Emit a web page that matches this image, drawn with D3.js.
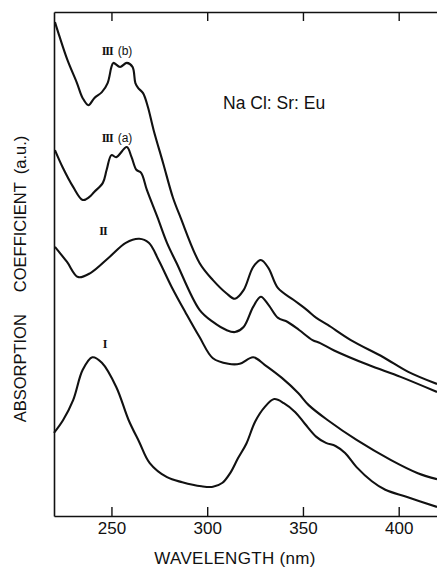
<!DOCTYPE html>
<html>
<head>
<meta charset="utf-8">
<script src="https://cdn.jsdelivr.net/npm/d3@7"></script>
<style>
  body { margin: 0; background: #fff; }
  svg { display: block; }
  text { font-family: "Liberation Sans", Arial, sans-serif; fill: #111; }
</style>
</head>
<body>
<svg id="chart" width="437" height="577"></svg>
<script>
// wavelengths (nm) and absorption (a.u.)
const wlIIIb = [220.5, 223, 227, 232, 235, 238, 241, 245, 248, 250, 251, 254.5, 258, 261, 262.5, 264, 266.5, 269, 272, 277, 282, 286, 296, 303, 310, 314.5, 319, 324, 328, 332, 337, 345, 352, 357, 363, 375, 392, 405, 420];
const absIIIb = [98.0, 95.0, 90.5, 85.9, 82.9, 81.5, 82.9, 84.1, 85.9, 89.1, 89.9, 89.1, 89.9, 89.1, 85.9, 84.9, 83.9, 81.2, 76.6, 70.0, 63.3, 59.3, 50.2, 46.8, 44.2, 43.1, 44.8, 49.4, 50.8, 49.2, 45.2, 42.9, 40.9, 39.3, 37.9, 34.9, 31.5, 28.6, 26.2];

const wlIIIa = [220.5, 224.5, 230, 235, 238.5, 241, 245.5, 247.5, 250, 252.5, 258, 260.5, 263, 265.5, 268.5, 274, 279, 284, 296, 303, 310, 314.5, 319, 324, 328, 332, 337, 342, 348, 355, 359, 366, 384, 401, 420];
const absIIIa = [72.6, 69.2, 65.3, 62.7, 63.3, 64.3, 66.1, 68.7, 71.6, 71.2, 73.2, 71.2, 68.7, 68.1, 64.7, 59.3, 54.2, 50.2, 40.9, 38.5, 36.9, 36.5, 37.5, 41.5, 43.5, 41.9, 39.3, 38.5, 36.9, 34.9, 34.3, 32.9, 30.0, 27.6, 24.6];

const wlII = [220.5, 226.8, 232.6, 239, 249, 257.5, 264.5, 269.5, 274.6, 281.5, 288.8, 296, 303, 311, 317, 324, 330, 339, 347.5, 353, 363, 378, 396, 410, 420];
const absII = [53.4, 50.4, 47.4, 48.2, 51.4, 54.2, 55.0, 54.2, 50.8, 45.4, 40.3, 35.5, 31.3, 30.2, 30.2, 31.5, 30.0, 27.4, 24.4, 22.0, 19.0, 15.1, 11.1, 8.5, 7.3];

const wlI = [220, 224.7, 230, 235, 240, 245, 252.5, 259, 264.5, 270, 279, 287, 297, 303, 308, 312, 316, 320.5, 325, 330, 335, 340, 346, 351, 357, 362, 367, 372, 378, 386, 393, 404, 420];
const absI = [16.5, 19.0, 23.0, 29.0, 31.5, 30.4, 25.6, 19.0, 14.7, 10.5, 7.7, 6.7, 5.9, 5.8, 6.6, 8.5, 11.4, 14.4, 18.7, 21.6, 23.2, 22.4, 20.6, 18.3, 15.7, 14.5, 13.9, 12.5, 9.7, 6.9, 5.2, 3.8, 1.8];

const xTicks = [250, 300, 350, 400];

const seriesNames = ["III (b)", "III (a)", "II", "I"];
const seriesWl = [wlIIIb, wlIIIa, wlII, wlI];
const seriesAbs = [absIIIb, absIIIa, absII, absI];

// curve labels: wavelength of centre, value at baseline
const labelWl = [252.9, 252.9, 245.6, 246.4];
const labelAbs = [91.5, 74.2, 55.8, 33.3];

const svg = d3.select("#chart");

const x = d3.scaleLinear().domain([220, 420]).range([54, 437]);
const y = d3.scaleLinear().domain([0, 100]).range([516, 12]);

// curves
const line = d3.line()
    .x(d => x(d[0]))
    .y(d => y(d[1]))
    .curve(d3.curveCatmullRom.alpha(0.5));

seriesWl.forEach((wl, i) => {
    const pts = wl.map((w, j) => [w, seriesAbs[i][j]]);
    svg.append("path")
        .datum(pts)
        .attr("d", line)
        .attr("fill", "none")
        .attr("stroke", "#111")
        .attr("stroke-width", 2.1);
});

// bottom axis with inward ticks
const bottom = svg.append("g")
    .attr("transform", "translate(0,516)")
    .call(d3.axisBottom(x).tickValues(xTicks).tickSizeInner(-9).tickSizeOuter(0).tickPadding(6));
bottom.selectAll("text").attr("font-size", 17).attr("font-family", "Liberation Sans");

// top axis, ticks pointing down, no labels
svg.append("g")
    .attr("transform", "translate(0,12)")
    .call(d3.axisBottom(x).tickValues(xTicks).tickSizeInner(9).tickSizeOuter(0).tickFormat(""));

// left axis, just the line
svg.append("g")
    .attr("transform", "translate(54,0)")
    .call(d3.axisLeft(y).tickValues([]).tickSizeOuter(0));

svg.selectAll(".domain").attr("stroke", "#111").attr("stroke-width", 1.6);
svg.selectAll(".tick line").attr("stroke", "#111").attr("stroke-width", 1.4);

// curve labels
seriesNames.forEach((name, i) => {
    const t = svg.append("text")
        .attr("x", x(labelWl[i]))
        .attr("y", y(labelAbs[i]))
        .attr("text-anchor", "middle")
        .attr("font-size", 12);
    const parts = name.split(" ");
    t.append("tspan")
        .attr("font-family", "Liberation Serif")
        .attr("font-weight", "bold")
        .attr("letter-spacing", -1)
        .text(parts[0]);
    if (parts[1]) {
        t.append("tspan").attr("dx", 5).text(parts[1]);
    }
});

svg.append("text")
    .attr("x", x(308.3))
    .attr("y", y(80.8))
    .attr("font-size", 17.5)
    .text("Na Cl: Sr: Eu");

// axis titles
svg.append("text")
    .attr("x", 235)
    .attr("y", 564)
    .attr("text-anchor", "middle")
    .attr("font-size", 17)
    .attr("letter-spacing", 0.3)
    .text("WAVELENGTH  (nm)");

const yt = svg.append("text")
    .attr("transform", "translate(26,279) rotate(-90)")
    .attr("text-anchor", "middle")
    .attr("font-size", 16.5);
yt.append("tspan").text("ABSORPTION");
yt.append("tspan").attr("dx", 22).text("COEFFICIENT");
yt.append("tspan").attr("dx", 8).text("(a.u.)");
</script>
</body>
</html>
